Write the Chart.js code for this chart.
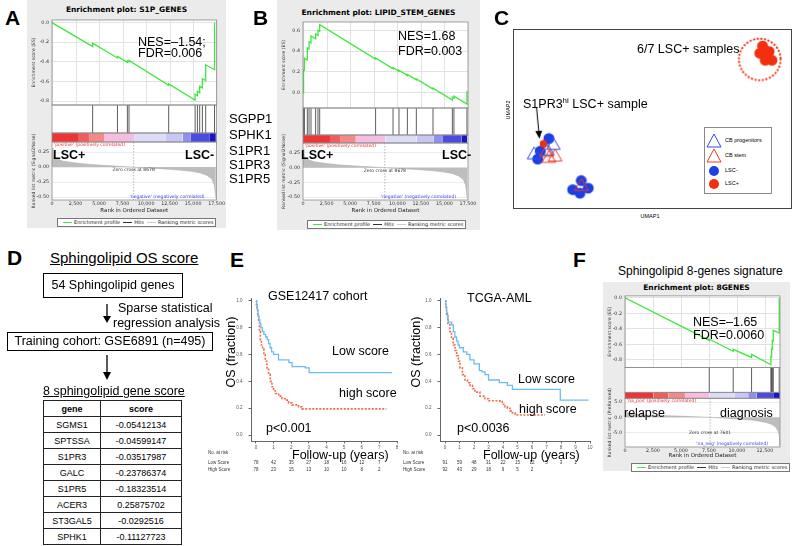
<!DOCTYPE html>
<html>
<head>
<meta charset="utf-8">
<title>Sphingolipid figure</title>
<script src="https://cdn.jsdelivr.net/npm/chart.js@4.4.1/dist/chart.umd.min.js"></script>
<style>
  body { margin: 0; background: #fff; }
  #fig { position: relative; width: 800px; height: 546px; overflow: hidden; background: #fff;
         font-family: 'Liberation Sans', Arial, sans-serif; color: #000; }
  #fig canvas, .a { position: absolute; }
  .t { position: absolute; white-space: nowrap; line-height: 1; }
  .pl { position: absolute; font-weight: bold; font-size: 21px; line-height: 1; }
  .gray { position: absolute; background: #ebebeb; }
  .gt { position: absolute; text-align: center; font: bold 7.5px 'DejaVu Sans'; line-height: 1; }
  .glg { position: absolute; background: #fff; border: 1px solid #777; font: 5px 'DejaVu Sans'; line-height: 7px;
         height: 7px; white-space: nowrap; padding: 0 2px; color: #222; }
  .glg i { display: inline-block; width: 9px; height: 1px; vertical-align: middle; margin: 0 2px 0 3px; }
  .box { position: absolute; box-sizing: border-box; border: 1.5px solid #000; text-align: center; font-size: 12.5px; }
  .u { text-decoration: underline; }
  #tbl { border-collapse: collapse; font-size: 9px; width: 139px; }
  #tbl td { border: 1px solid #222; height: 15px; padding: 0; text-align: center; }
</style>
</head>
<body>
<div id="fig">
  <!-- A -->
  <div class="gray" style="left:27px;top:0;width:199px;height:228px"></div>
  <div class="gt" style="left:27px;top:6px;width:199px">Enrichment plot: S1P_GENES</div>
  <canvas id="cA" width="199" height="201" style="left:27px;top:13px"></canvas>
  <div class="glg" style="left:57px;top:218px"><i style="background:#3ee83e;height:1.5px"></i>Enrichment profile<i style="background:#333"></i>Hits<i style="background:#ccc"></i>Ranking metric scores</div>

  <!-- B -->
  <div class="gray" style="left:277px;top:0;width:203px;height:230px"></div>
  <div class="gt" style="left:277px;top:9px;width:203px">Enrichment plot: LIPID_STEM_GENES</div>
  <canvas id="cB" width="203" height="201" style="left:277px;top:13px"></canvas>
  <div class="glg" style="left:307px;top:220px"><i style="background:#3ee83e;height:1.5px"></i>Enrichment profile<i style="background:#333"></i>Hits<i style="background:#ccc"></i>Ranking metric scores</div>

  <!-- C -->
  <canvas id="cC" width="279" height="180" style="left:513px;top:29px;border:1px solid #444"></canvas>

  <!-- E -->
  <canvas id="cE1" width="205" height="185" style="left:200px;top:290px"></canvas>
  <canvas id="cE2" width="200" height="185" style="left:398px;top:290px"></canvas>

  <!-- F -->
  <div class="gray" style="left:603px;top:282px;width:187px;height:189px"></div>
  <div class="gt" style="left:603px;top:284px;width:187px">Enrichment plot: 8GENES</div>
  <canvas id="cF" width="187" height="167" style="left:603px;top:292px"></canvas>
  <div class="glg" style="left:631px;top:463px"><i style="background:#3ee83e;height:1.5px"></i>Enrichment profile<i style="background:#333"></i>Hits<i style="background:#ccc"></i>Ranking metric scores</div>

  <!-- panel letters -->
  <div class="pl" style="left:5px;top:7px">A</div>
  <div class="pl" style="left:253px;top:7px">B</div>
  <div class="pl" style="left:494px;top:7px">C</div>
  <div class="pl" style="left:7px;top:247px">D</div>
  <div class="pl" style="left:230px;top:249px">E</div>
  <div class="pl" style="left:573px;top:249px">F</div>

  <!-- A overlays -->
  <div class="t" style="left:138px;top:36px;font-size:12.5px">NES=–1.54;</div>
  <div class="t" style="left:138px;top:47px;font-size:12.5px">FDR=0.006</div>
  <div class="t" style="left:53px;top:149px;font-size:12.5px;font-weight:bold">LSC+</div>
  <div class="t" style="left:185px;top:149px;font-size:12.5px;font-weight:bold">LSC-</div>
  <div class="t" style="left:229px;top:112px;font-size:13px">SGPP1</div>
  <div class="t" style="left:229px;top:128px;font-size:13px">SPHK1</div>
  <div class="t" style="left:229px;top:144px;font-size:13px">S1PR1</div>
  <div class="t" style="left:229px;top:158px;font-size:13px">S1PR3</div>
  <div class="t" style="left:229px;top:172px;font-size:13px">S1PR5</div>

  <!-- B overlays -->
  <div class="t" style="left:398px;top:30px;font-size:12.5px">NES=1.68</div>
  <div class="t" style="left:398px;top:45px;font-size:12.5px">FDR=0.003</div>
  <div class="t" style="left:301px;top:149px;font-size:12.5px;font-weight:bold">LSC+</div>
  <div class="t" style="left:442px;top:149px;font-size:12.5px;font-weight:bold">LSC-</div>

  <!-- C overlays -->
  <div class="t" style="left:637px;top:43px;font-size:12.5px">6/7 LSC+ samples</div>
  <div class="t" style="left:523px;top:97px;font-size:12.5px">S1PR3<sup style="font-size:8px">hi</sup> LSC+ sample</div>
  <div class="t" style="left:650px;top:214px;font-size:5.5px;transform:translateX(-50%)">UMAP1</div>
  <div class="t" style="left:509px;top:110px;font-size:5.5px;transform:translate(-50%,-50%) rotate(-90deg)">UMAP2</div>
  <div class="a" style="left:704px;top:127px;width:66px;height:65px;border:1px solid #888;background:#fff;font-size:5.5px">
    <svg class="a" style="left:1px;top:5px" width="16" height="15"><polygon points="8,1 15,14 1,14" fill="none" stroke="#2d4fe0"/></svg>
    <div class="t" style="left:20px;top:10px">CB progenitors</div>
    <svg class="a" style="left:1px;top:20px" width="16" height="15"><polygon points="8,1 15,14 1,14" fill="none" stroke="#ee3a22"/></svg>
    <div class="t" style="left:20px;top:25px">CB stem</div>
    <svg class="a" style="left:3px;top:37px" width="12" height="12"><circle cx="6" cy="6" r="5" fill="#1d3fe6"/></svg>
    <div class="t" style="left:20px;top:40px">LSC-</div>
    <svg class="a" style="left:3px;top:50px" width="12" height="12"><circle cx="6" cy="6" r="5" fill="#f2300f"/></svg>
    <div class="t" style="left:20px;top:53px">LSC+</div>
  </div>

  <!-- D -->
  <div class="t u" style="left:50px;top:250px;font-size:15px">Sphingolipid OS score</div>
  <div class="box" style="left:43px;top:273px;width:140px;height:25px;line-height:22px">54 Sphingolipid genes</div>
  <div class="t" style="left:118px;top:302px;font-size:12.5px">Sparse statistical</div>
  <div class="t" style="left:113px;top:317px;font-size:12.5px">regression analysis</div>
  <div class="box" style="left:7px;top:332px;width:206px;height:19px;line-height:16px">Training cohort: GSE6891 (n=495)</div>
  <div class="t u" style="left:43px;top:385px;font-size:12.5px">8 sphingolipid gene score</div>
  <svg class="a" style="left:0;top:240px" width="230" height="160">
    <line x1="107" y1="64" x2="107" y2="77" stroke="#000" stroke-width="1.3"/>
    <polygon points="103,76 111,76 107,83" fill="#000"/>
    <line x1="107" y1="115" x2="107" y2="133" stroke="#000" stroke-width="1.3"/>
    <polygon points="103,132 111,132 107,140" fill="#000"/>
  </svg>
  <table id="tbl" class="a" style="left:43px;top:400px"></table>

  <!-- E overlays -->
  <div class="t" style="left:268px;top:290px;font-size:12.5px">GSE12417 cohort</div>
  <div class="t" style="left:467px;top:292px;font-size:12.5px">TCGA-AML</div>
  <div class="t" style="left:332px;top:345px;font-size:12.5px">Low score</div>
  <div class="t" style="left:339px;top:387px;font-size:12.5px">high score</div>
  <div class="t" style="left:266px;top:422px;font-size:12.5px">p&lt;0.001</div>
  <div class="t" style="left:518px;top:373px;font-size:12.5px">Low score</div>
  <div class="t" style="left:519px;top:403px;font-size:12.5px">high score</div>
  <div class="t" style="left:457px;top:422px;font-size:12.5px">p&lt;0.0036</div>
  <div class="t" style="left:292px;top:449px;font-size:12.5px">Follow-up (years)</div>
  <div class="t" style="left:483px;top:449px;font-size:12.5px">Follow-up (years)</div>
  <div class="t" style="left:231px;top:352px;font-size:12.5px;transform:translate(-50%,-50%) rotate(-90deg)">OS (fraction)</div>
  <div class="t" style="left:416px;top:352px;font-size:12.5px;transform:translate(-50%,-50%) rotate(-90deg)">OS (fraction)</div>

  <!-- F overlays -->
  <div class="t" style="left:618px;top:265px;font-size:12px">Sphingolipid 8-genes signature</div>
  <div class="t" style="left:693px;top:316px;font-size:12.5px">NES=–1.65</div>
  <div class="t" style="left:693px;top:329px;font-size:12.5px">FDR=0.0060</div>
  <div class="t" style="left:624px;top:407px;font-size:12.5px">relapse</div>
  <div class="t" style="left:720px;top:407px;font-size:12.5px">diagnosis</div>
</div>

<script>
// ---- A: S1P genes enrichment (rank, running ES) ----
const aRank = [0, 4322, 4322, 6958, 6958, 8012, 8012, 8188, 8188, 12405, 12405, 15216, 15216, 15460, 15460, 15700, 15700, 15990, 15990, 16340, 16340, 17280, 17280];
const aES = [0, -0.245, -0.21, -0.36, -0.345, -0.405, -0.39, -0.40, -0.385, -0.64, -0.625, -0.79, -0.73, -0.745, -0.70, -0.715, -0.65, -0.665, -0.57, -0.59, -0.43, -0.48, 0.0];
const aHits = [4322, 6958, 8012, 8188, 12405, 15216, 15460, 15700, 15990, 16340, 17280];

// ---- B: lipid stem genes ----
const bRank = [0, 60, 60, 150, 150, 460, 460, 640, 640, 850, 850, 1340, 1340, 1590, 1590, 1770, 1770, 7700, 7700, 9550, 9550, 10180, 10180, 11070, 11070, 12020, 12020, 13790, 13790, 15840, 15840, 16010, 16010, 17390, 17390, 17480];
const bES = [0, -0.003, 0.22, 0.215, 0.33, 0.313, 0.43, 0.42, 0.49, 0.478, 0.545, 0.518, 0.565, 0.551, 0.60, 0.59, 0.655, 0.323, 0.333, 0.229, 0.239, 0.204, 0.214, 0.164, 0.174, 0.121, 0.131, 0.032, 0.042, -0.073, -0.045, -0.055, -0.035, -0.112, 0.005, 0.0];
const bHits = [60, 150, 460, 640, 850, 1340, 1590, 1770, 7700, 9550, 10180, 11070, 12020, 13790, 15840, 16010, 17390];

// ranked list shared by A and B (LSC+ vs LSC-)
const lscMetricRank = [0, 100, 500, 1200, 2500, 4000, 6000, 7500, 8678, 10000, 12000, 13500, 14800, 15800, 16500, 17000, 17250, 17420];
const lscMetric = [0.32, 0.2, 0.14, 0.1, 0.07, 0.045, 0.025, 0.01, 0, -0.015, -0.03, -0.05, -0.07, -0.1, -0.14, -0.2, -0.3, -0.52];
const lscBarEdges = [0, 2860, 3930, 5600, 8720, 12040, 13880, 14770, 16790, 17420];

// ---- F: 8 genes, relapse vs diagnosis ----
const fRank = [0, 7530, 7530, 9670, 9670, 11310, 11310, 13035, 13035, 13100, 13100, 13160, 13160, 13250, 13250, 13780, 13780];
const fES = [0, -0.55, -0.535, -0.69, -0.665, -0.77, -0.73, -0.865, -0.76, -0.765, -0.66, -0.665, -0.55, -0.557, -0.42, -0.455, 0.0];
const fHits = [7530, 9670, 11310, 13035, 13100, 13160, 13250, 13780];
const fMetricRank = [0, 150, 600, 1500, 2500, 4000, 5500, 6800, 7601, 9000, 10300, 11300, 12000, 12600, 13100, 13450, 13700, 13800, 13840];
const fMetric = [2.2, 1.6, 1.2, 0.9, 0.7, 0.5, 0.33, 0.15, 0, -0.3, -0.6, -0.9, -1.3, -1.7, -2.3, -3.2, -4.6, -6.5, -9.5];
const fBarEdges = [0, 2530, 3870, 5357, 7530, 9820, 11010, 11755, 13240, 13840];

// tick labels
const rankTicks = [0, 2500, 5000, 7500, 10000, 12500, 15000, 17500];
const rankTicksF = [0, 2500, 5000, 7500, 10000, 12500];
const esTicksA = [0, -0.1, -0.2, -0.3, -0.4, -0.5, -0.6, -0.7, -0.8];
const esTicksB = [0.6, 0.5, 0.4, 0.3, 0.2, 0.1, 0, -0.1];
const esTicksF = [0, -0.1, -0.2, -0.3, -0.4, -0.5, -0.6, -0.7, -0.8];
const metricTicksLsc = [0.25, 0, -0.25, -0.5];
const metricTicksF = [5, 2.5, 0, -2.5, -5, -7.5];

// ---- C: UMAP ----
const cbProgX = [4.3, 11.7, 9.4];
const cbProgY = [27.6, 33.5, 30];
const cbStemX = [9.1, 12.4, 10.0, 22.6];
const cbStemY = [29.1, 26.3, 25.4, 7.8];
const lscNegX = [10.0, 6.7, 5.7, 22.5, 19.2, 22.0, 25.2];
const lscNegY = [37.8, 30, 25, 11.5, 5.9, 3.7, 6.8];
const lscPosX = [92.5, 95.0, 93.5, 96.1, 91.4];
const lscPosY = [95.6, 92.2, 86.7, 86.7, 91.1];
const s1pr3hiX = [7.9];
const s1pr3hiY = [34.6];
const ringCenter = [91.4, 87.2];

// ---- D: 8 sphingolipid gene score ----
const geneNames = ['SGMS1', 'SPTSSA', 'S1PR3', 'GALC', 'S1PR5', 'ACER3', 'ST3GAL5', 'SPHK1'];
const geneScores = ['-0.05412134', '-0.04599147', '-0.03517987', '-0.23786374', '-0.18323514', '0.25875702', '-0.0292516', '-0.11127723'];

// ---- E: Kaplan-Meier ----
const gseLowT = [0, 0.04, 0.08, 0.12, 0.17, 0.22, 0.28, 0.36, 0.45, 0.55, 0.64, 0.72, 0.8, 0.89, 1.0, 1.28, 1.87, 2.05, 2.8, 3.02, 7.72];
const gseLowS = [1.0, 0.96, 0.93, 0.89, 0.86, 0.83, 0.80, 0.77, 0.75, 0.73, 0.71, 0.68, 0.65, 0.62, 0.60, 0.56, 0.54, 0.51, 0.50, 0.465, 0.465];
const gseHighT = [0, 0.03, 0.06, 0.1, 0.15, 0.2, 0.25, 0.31, 0.38, 0.45, 0.53, 0.62, 0.72, 0.81, 0.91, 1.0, 1.1, 1.29, 1.48, 1.66, 1.85, 2.04, 2.42, 2.6, 7.4];
const gseHighS = [1.0, 0.97, 0.94, 0.89, 0.84, 0.77, 0.71, 0.67, 0.64, 0.60, 0.55, 0.50, 0.45, 0.40, 0.36, 0.33, 0.31, 0.29, 0.27, 0.26, 0.24, 0.225, 0.21, 0.195, 0.195];
const tcgaLowT = [0, 0.06, 0.11, 0.17, 0.23, 0.46, 0.57, 0.68, 0.8, 0.9, 0.99, 1.26, 1.5, 1.72, 2.0, 2.37, 2.55, 2.76, 3.0, 3.75, 4.3, 4.65, 7.95, 9.9];
const tcgaLowS = [1.0, 0.95, 0.91, 0.87, 0.84, 0.82, 0.77, 0.73, 0.70, 0.67, 0.65, 0.62, 0.60, 0.56, 0.53, 0.48, 0.47, 0.45, 0.41, 0.39, 0.37, 0.34, 0.26, 0.26];
const tcgaHighT = [0, 0.05, 0.11, 0.2, 0.34, 0.45, 0.57, 0.69, 0.8, 0.92, 1.03, 1.2, 1.38, 1.55, 1.72, 1.9, 2.07, 2.41, 2.76, 3.0, 3.8, 3.95, 4.14, 4.3, 4.48, 4.65, 4.83, 6.9];
const tcgaHighS = [1.0, 0.95, 0.89, 0.83, 0.77, 0.72, 0.67, 0.63, 0.59, 0.55, 0.50, 0.45, 0.41, 0.39, 0.37, 0.345, 0.32, 0.29, 0.27, 0.255, 0.25, 0.23, 0.21, 0.2, 0.18, 0.165, 0.15, 0.15];
const gseRiskLow = [78, 42, 35, 27, 18, 16, 12, 7];
const gseRiskHigh = [78, 23, 15, 13, 10, 10, 8, 2];
const tcgaRiskLow = [91, 59, 48, 31, 22, 15, 12, 5, 3, 1];
const tcgaRiskHigh = [92, 43, 29, 18, 9, 5, 2];
const kmYTicks = [0, 0.2, 0.4, 0.6, 0.8, 1.0];
const gseYears = [0, 1, 2, 3, 4, 5, 6, 7, 8];
const tcgaYears = [0, 1, 2, 3, 4, 5, 6, 7, 8, 9, 10];

const barColors = ['#ef3434', '#f15c5c', '#f38a8a', '#f6bde3', '#dcdcf7', '#c7c7f5', '#8f8ff0', '#4b4be3', '#1616c4'];

Chart.defaults.font.family = "'Liberation Sans', Arial, sans-serif";
Chart.defaults.animation = false;
Chart.defaults.plugins.legend.display = false;
Chart.defaults.plugins.tooltip.enabled = false;

function xy(xs, ys) { return xs.map((x, i) => ({x: x, y: ys[i]})); }
function fixTicks(vals) { return s => { s.ticks = vals.map(v => ({value: v})); }; }
function fixW(w) { return s => { s.width = w; }; }

const gFont = {size: 4.8, family: 'DejaVu Sans'};

function gseaDecor(g) {
  return {
    id: 'gseaDecor',
    beforeDraw(chart) {
      const {ctx, chartArea: a} = chart;
      ctx.save();
      ctx.fillStyle = '#fff';
      ctx.fillRect(a.left, a.top, a.width, a.height);
      ctx.restore();
    },
    beforeDatasetsDraw(chart) {
      const {ctx, scales: s} = chart;
      ctx.save();
      ctx.strokeStyle = '#e2e2e2';
      ctx.lineWidth = 1;
      s.x.ticks.forEach(t => {
        const px = Math.round(s.x.getPixelForValue(t.value)) + 0.5;
        ctx.beginPath(); ctx.moveTo(px, s.yES.top); ctx.lineTo(px, s.yES.bottom); ctx.stroke();
      });
      ctx.restore();
    },
    afterDatasetsDraw(chart) {
      const {ctx, chartArea: a, scales: s} = chart;
      ctx.save();
      const zx = s.x.getPixelForValue(g.zero);
      ctx.strokeStyle = '#9a9a9a'; ctx.lineWidth = 0.7; ctx.setLineDash([1.5, 1.5]);
      ctx.beginPath(); ctx.moveTo(zx, s.yBar.bottom); ctx.lineTo(zx, s.yRank.bottom); ctx.stroke();
      ctx.setLineDash([]);
      ctx.strokeStyle = '#8c8c8c'; ctx.lineWidth = 0.8;
      ['yES', 'yHits', 'yBar', 'yRank'].forEach(id => ctx.strokeRect(a.left, s[id].top, a.width, s[id].height));
      ctx.font = '4.5px "DejaVu Sans"';
      ctx.textBaseline = 'middle';
      ctx.fillStyle = '#e83030'; ctx.textAlign = 'left';
      ctx.fillText(g.posText, a.left + 2, s.yRank.top + 3);
      ctx.fillStyle = '#3a3ae8'; ctx.textAlign = 'right';
      ctx.fillText(g.negText, a.right - 12, s.yRank.bottom - 3);
      ctx.fillStyle = '#333'; ctx.textAlign = 'center';
      ctx.fillText('Zero cross at ' + g.zero, zx, s.yRank.getPixelForValue(0) + g.zeroDy);
      ctx.restore();
    }
  };
}

function gseaChart(id, g) {
  const sets = [];
  sets.push({data: xy(g.rank, g.es), yAxisID: 'yES', borderColor: '#3ee83e', borderWidth: 1.3, pointRadius: 0});
  const hitPts = [];
  g.hits.forEach(h => hitPts.push({x: h, y: 0}, {x: h, y: 1}, {x: h, y: null}));
  sets.push({data: hitPts, yAxisID: 'yHits', borderColor: '#333', borderWidth: 0.8, pointRadius: 0, spanGaps: false});
  for (let i = 0; i < g.bar.length - 1; i++) {
    sets.push({data: [{x: g.bar[i], y: 1}, {x: g.bar[i + 1], y: 1}], yAxisID: 'yBar', fill: 'origin',
      backgroundColor: barColors[i], borderColor: 'rgba(0,0,0,0)', pointRadius: 0});
  }
  sets.push({data: xy(g.mRank, g.metric), yAxisID: 'yRank', fill: 'origin', backgroundColor: '#bdbdbd',
    borderColor: '#a8a8a8', borderWidth: 0.5, pointRadius: 0});

  const plain = {ticks: {display: false}, grid: {display: false}, border: {display: false}};
  return new Chart(document.getElementById(id), {
    type: 'line',
    data: {datasets: sets},
    options: {
      responsive: false,
      layout: {padding: g.pad},
      scales: {
        x: {type: 'linear', min: 0, max: g.xMax, afterBuildTicks: fixTicks(g.xTicks),
          ticks: {font: gFont, color: '#333', maxRotation: 0, autoSkip: false, padding: 1,
            callback: v => v.toLocaleString('en-US')},
          grid: {display: false, drawTicks: false}, border: {display: false},
          title: {display: true, text: 'Rank in Ordered Dataset', font: {size: 5.5, family: 'DejaVu Sans'}, color: '#222', padding: 0},
          afterFit: s => { s.height = g.xH; }},
        yES: {position: 'left', stack: 'g', weight: 4, stackWeight: g.w[0], min: g.esMin, max: g.esMax,
          afterBuildTicks: fixTicks(g.esTicks),
          ticks: {font: gFont, color: '#333', padding: 1, callback: v => v.toFixed(1)},
          grid: {color: '#e2e2e2', tickLength: 2}, border: {display: false},
          title: {display: true, text: 'Enrichment score (ES)', font: {size: 4.5, family: 'DejaVu Sans'}, color: '#333', padding: {top: 4, bottom: 0}},
          afterFit: fixW(g.yW)},
        yHits: Object.assign({position: 'left', stack: 'g', weight: 3, stackWeight: g.w[1], min: 0, max: 1, afterFit: fixW(g.yW)}, plain),
        yBar: Object.assign({position: 'left', stack: 'g', weight: 2, stackWeight: g.w[2], min: 0, max: 1, afterFit: fixW(g.yW)}, plain),
        yRank: {position: 'left', stack: 'g', weight: 1, stackWeight: g.w[3], min: g.mMin, max: g.mMax,
          afterBuildTicks: fixTicks(g.mTicks),
          ticks: {font: gFont, color: '#333', padding: 1, callback: v => v.toFixed(g.mDec)},
          grid: {color: '#ececec', tickLength: 2}, border: {display: false},
          title: {display: true, text: g.metricTitle, font: {size: 4.5, family: 'DejaVu Sans'}, color: '#333', padding: {top: 4, bottom: 0}},
          afterFit: fixW(g.yW)}
      }
    },
    plugins: [gseaDecor(g)]
  });
}

gseaChart('cA', {
  rank: aRank, es: aES, hits: aHits, bar: lscBarEdges, mRank: lscMetricRank, metric: lscMetric,
  xMax: 17500, xTicks: rankTicks, esMin: -0.84, esMax: 0.027, esTicks: esTicksA,
  mMin: -0.55, mMax: 0.42, mTicks: metricTicksLsc, mDec: 2, zero: 8678, zeroDy: 3,
  w: [85, 28, 9, 58], yW: 25, xH: 14, pad: {top: 7, right: 8},
  posText: "'positive' (positively correlated)", negText: "'negative' (negatively correlated)",
  metricTitle: 'Ranked list metric (Signal2Noise)'
});

gseaChart('cB', {
  rank: bRank, es: bES, hits: bHits, bar: lscBarEdges, mRank: lscMetricRank, metric: lscMetric,
  xMax: 17500, xTicks: rankTicks, esMin: -0.15, esMax: 0.68, esTicks: esTicksB,
  mMin: -0.55, mMax: 0.42, mTicks: metricTicksLsc, mDec: 2, zero: 8678, zeroDy: 3,
  w: [86, 27, 8, 57], yW: 26, xH: 14, pad: {top: 9, right: 12},
  posText: "'positive' (positively correlated)", negText: "'negative' (negatively correlated)",
  metricTitle: 'Ranked list metric (Signal2Noise)'
});

gseaChart('cF', {
  rank: fRank, es: fES, hits: fHits, bar: fBarEdges, mRank: fMetricRank, metric: fMetric,
  xMax: 13850, xTicks: rankTicksF, esMin: -0.9, esMax: 0.026, esTicks: esTicksF,
  mMin: -9.8, mMax: 6.3, mTicks: metricTicksF, mDec: 1, zero: 7601, zeroDy: 15,
  w: [72, 25, 6, 49], yW: 22, xH: 12, pad: {top: 3, right: 10},
  posText: "'na_pos' (positively correlated)", negText: "'na_neg' (negatively correlated)",
  metricTitle: 'Ranked list metric (PreRanked)'
});

// ---- C: UMAP scatter ----
const umapDecor = {
  id: 'umapDecor',
  afterDatasetsDraw(chart) {
    const {ctx, scales: {x, y}} = chart;
    ctx.save();
    const cx = x.getPixelForValue(ringCenter[0]), cy = y.getPixelForValue(ringCenter[1]);
    ctx.strokeStyle = '#f2300f'; ctx.lineWidth = 2.2; ctx.lineCap = 'round'; ctx.setLineDash([0.1, 3.6]);
    ctx.beginPath(); ctx.arc(cx, cy, 21, 0, Math.PI * 2); ctx.stroke();
    // arrow pointing at the S1PR3hi sample
    const tx = x.getPixelForValue(s1pr3hiX[0]) - 4, ty = y.getPixelForValue(s1pr3hiY[0]) - 5;
    const sx = tx - 3, sy = ty - 32;
    const len = Math.hypot(tx - sx, ty - sy), dx = (tx - sx) / len, dy = (ty - sy) / len;
    ctx.setLineDash([]); ctx.lineCap = 'butt'; ctx.strokeStyle = '#000'; ctx.fillStyle = '#000'; ctx.lineWidth = 1;
    ctx.beginPath(); ctx.moveTo(sx, sy); ctx.lineTo(tx - dx * 6, ty - dy * 6); ctx.stroke();
    const bx = tx - dx * 8, by = ty - dy * 8;
    ctx.beginPath(); ctx.moveTo(tx, ty); ctx.lineTo(bx - dy * 3.5, by + dx * 3.5); ctx.lineTo(bx + dy * 3.5, by - dx * 3.5);
    ctx.closePath(); ctx.fill();
    ctx.restore();
  }
};

new Chart(document.getElementById('cC'), {
  type: 'scatter',
  data: {datasets: [
    {data: xy(cbStemX, cbStemY), pointStyle: 'triangle', pointRadius: 8, borderColor: '#ee3a22', backgroundColor: 'rgba(0,0,0,0)', borderWidth: 1},
    {data: xy(cbProgX, cbProgY), pointStyle: 'triangle', pointRadius: 8, borderColor: '#2d4fe0', backgroundColor: 'rgba(0,0,0,0)', borderWidth: 1},
    {data: xy(s1pr3hiX, s1pr3hiY), pointRadius: 3.8, backgroundColor: '#f2300f', borderWidth: 0},
    {data: xy(lscPosX, lscPosY), pointRadius: 5.5, backgroundColor: '#f2300f', borderWidth: 0},
    {data: xy(lscNegX, lscNegY), pointRadius: 5.5, backgroundColor: '#1d3fe6', borderWidth: 0}
  ]},
  options: {
    responsive: false,
    layout: {padding: 0},
    scales: {x: {display: false, min: 0, max: 100}, y: {display: false, min: 0, max: 100}}
  },
  plugins: [umapDecor]
});

// ---- E: Kaplan-Meier curves ----
function riskTable(k) {
  return {
    id: 'riskTable',
    afterDraw(chart) {
      const {ctx, chartArea: a, scales: {x}} = chart;
      ctx.save();
      ctx.font = '4.5px "Liberation Sans"';
      ctx.fillStyle = '#333';
      ctx.textBaseline = 'middle';
      ctx.textAlign = 'left';
      ctx.fillText('No. at risk', k.labelX, a.bottom + 12);
      ctx.fillText('Low Score', k.labelX, a.bottom + 22);
      ctx.fillText('High Score', k.labelX, a.bottom + 29);
      ctx.textAlign = 'center';
      k.riskLow.forEach((n, i) => ctx.fillText(n, x.getPixelForValue(i), a.bottom + 22));
      k.riskHigh.forEach((n, i) => ctx.fillText(n, x.getPixelForValue(i), a.bottom + 29));
      ctx.restore();
    }
  };
}

function kmChart(id, k) {
  const tickFont = {size: 4.5};
  return new Chart(document.getElementById(id), {
    type: 'line',
    data: {datasets: [
      {data: xy(k.lowT, k.lowS), borderColor: '#6cbcf2', borderWidth: 1.3, pointRadius: 0, stepped: true},
      {data: xy(k.highT, k.highS), borderColor: '#f26a4c', borderWidth: 1.6, borderDash: [2, 1.5], pointRadius: 0, stepped: true}
    ]},
    options: {
      responsive: false,
      layout: {padding: {top: 7, right: 8}},
      scales: {
        x: {type: 'linear', min: k.xMin, max: k.xMax, afterBuildTicks: fixTicks(k.years),
          ticks: {font: tickFont, color: '#555', padding: 2, maxRotation: 0, autoSkip: false},
          grid: {drawOnChartArea: false, tickLength: 2.5, color: '#666'}, border: {color: '#666'},
          afterFit: s => { s.height = 34; }},
        y: {min: -0.044, max: 1.015, afterBuildTicks: fixTicks(kmYTicks),
          ticks: {font: tickFont, color: '#555', padding: 6, callback: v => v.toFixed(1)},
          grid: {drawOnChartArea: false, tickLength: 2.5, color: '#666'}, border: {color: '#666'},
          afterFit: fixW(k.yW)}
      }
    },
    plugins: [riskTable(k)]
  });
}

kmChart('cE1', {lowT: gseLowT, lowS: gseLowS, highT: gseHighT, highS: gseHighS,
  riskLow: gseRiskLow, riskHigh: gseRiskHigh, years: gseYears, xMin: -0.28, xMax: 8, yW: 51, labelX: 8});
kmChart('cE2', {lowT: tcgaLowT, lowS: tcgaLowS, highT: tcgaHighT, highS: tcgaHighS,
  riskLow: tcgaRiskLow, riskHigh: tcgaRiskHigh, years: tcgaYears, xMin: -0.345, xMax: 10, yW: 42, labelX: 5});

// ---- D: score table ----
let rows = '<tr><td style="width:56px"><b>gene</b></td><td><b>score</b></td></tr>';
geneNames.forEach((g, i) => { rows += '<tr><td>' + g + '</td><td>' + geneScores[i] + '</td></tr>'; });
document.getElementById('tbl').innerHTML = rows;
</script>
</body>
</html>
